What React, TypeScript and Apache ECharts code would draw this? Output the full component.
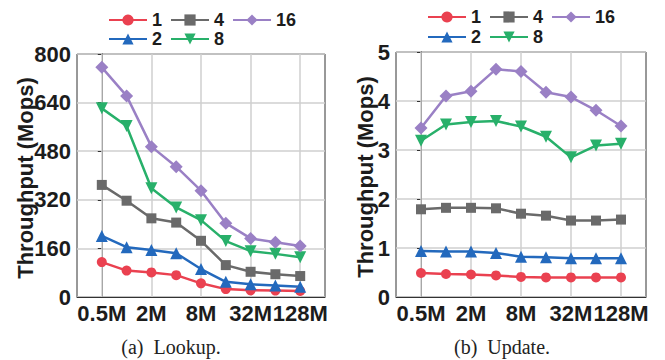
import React, { useEffect, useRef } from "react";
import * as echarts from "echarts";

const categories = ["0.5M", "1M", "2M", "4M", "8M", "16M", "32M", "64M", "128M"];
const threadNames = ["1", "2", "4", "8", "16"];

// Lookup throughput (Mops)
const lookup1 = [115, 87, 81, 72, 45, 26, 22, 21, 20];
const lookup2 = [201, 164, 155, 144, 92, 50, 42, 38, 34];
const lookup4 = [369, 317, 259, 245, 185, 105, 83, 75, 69];
const lookup8 = [621, 563, 358, 295, 253, 184, 151, 142, 131];
const lookup16 = [756, 662, 495, 429, 350, 243, 193, 180, 168];

// Update throughput (Mops)
const update1 = [0.49, 0.47, 0.46, 0.44, 0.41, 0.4, 0.4, 0.4, 0.4];
const update2 = [0.94, 0.93, 0.93, 0.9, 0.82, 0.81, 0.79, 0.79, 0.79];
const update4 = [1.79, 1.82, 1.82, 1.81, 1.7, 1.66, 1.56, 1.56, 1.58];
const update8 = [3.19, 3.52, 3.57, 3.59, 3.48, 3.27, 2.85, 3.09, 3.13];
const update16 = [3.45, 4.1, 4.2, 4.65, 4.6, 4.18, 4.08, 3.81, 3.49];

const lookupTicks = { max: 800, interval: 160 };
const updateTicks = { max: 5, interval: 1 };

const colors = ["#ea4150", "#2369bd", "#6a6a6a", "#28b06a", "#9a80c5"];
const symbols = ["circle", "triangle", "rect", "triangle", "diamond"];
const symbolRotates = [0, 0, 0, 180, 0];
const symbolSizes = [10, 12, 10, 12, 13];

const FONT = "'Liberation Sans', Arial, sans-serif";
const TXT = "#1c1c1c";

export default function App() {
  const ref = useRef<HTMLDivElement>(null);
  useEffect(() => {
    if (!ref.current) return;
    const chart = echarts.init(ref.current, null, { renderer: "svg" });
    const lookupData = [lookup1, lookup2, lookup4, lookup8, lookup16];
    const updateData = [update1, update2, update4, update8, update16];
    const gridLinePos = categories.map((_, i) => i).filter((i) => i % 2 === 0);

    const grids = [
      { left: 77, top: 54, width: 248, height: 243 },
      { left: 396, top: 52, width: 250, height: 245 },
    ];

    const xAxes = grids.map((_, gi) => ({
      type: "value" as const,
      gridIndex: gi,
      min: -1,
      max: categories.length,
      interval: 1,
      axisLine: { show: true, lineStyle: { color: "#333", width: 1 } },
      axisTick: { show: false },
      splitLine: { show: false },
      axisLabel: {
        margin: 5,
        fontFamily: FONT,
        fontWeight: "bold" as const,
        fontSize: 22,
        color: TXT,
        formatter: (v: number) =>
          Number.isInteger(v) && v >= 0 && v < categories.length && v % 2 === 0 ? categories[v] : "",
      },
    }));

    const yAxes = [lookupTicks, updateTicks].map((t, gi) => ({
      type: "value" as const,
      gridIndex: gi,
      min: 0,
      max: t.max,
      interval: t.interval,
      axisLine: { show: true, lineStyle: { color: "#333", width: 1 } },
      axisTick: { show: true, length: 4, lineStyle: { color: "#333" } },
      splitLine: { show: true, lineStyle: { color: "#cfcfcf", width: 1.5 } },
      axisLabel: {
        margin: 6,
        fontFamily: FONT,
        fontWeight: "bold" as const,
        fontSize: 22,
        color: TXT,
      },
    }));

    const series: any[] = [];
    [lookupData, updateData].forEach((dataSet, gi) => {
      dataSet.forEach((vals, si) => {
        const s: any = {
          type: "line",
          name: threadNames[si],
          xAxisIndex: gi,
          yAxisIndex: gi,
          data: vals.map((v, i) => [i, v]),
          symbol: symbols[si],
          symbolRotate: symbolRotates[si],
          symbolSize: symbolSizes[si],
          color: colors[si],
          lineStyle: { width: 2.5, color: colors[si] },
          itemStyle: { color: colors[si] },
          z: 3,
        };
        if (si === 0) {
          s.markLine = {
            silent: true,
            symbol: ["none", "none"],
            label: { show: false },
            z: 1,
            lineStyle: { color: "#cfcfcf", width: 1.5, type: "solid" },
            data: gridLinePos.map((p) => ({ xAxis: p })),
          };
        }
        series.push(s);
      });
    });

    const legendBase = {
      orient: "horizontal" as const,
      padding: 0,
      itemWidth: 38,
      itemHeight: 14,
      itemGap: 8,
      selectedMode: false,
      textStyle: {
        fontFamily: FONT,
        fontWeight: "bold" as const,
        fontSize: 18,
        lineHeight: 17,
        color: TXT,
      },
    };
    const row1 = [threadNames[0], threadNames[2], threadNames[4]];
    const row2 = [threadNames[1], threadNames[3]];

    const legends = [
      { ...legendBase, left: 108, top: 11, data: row1 },
      { ...legendBase, left: 108, top: 30, data: row2 },
      { ...legendBase, left: 427, top: 8, data: row1 },
      { ...legendBase, left: 427, top: 28, data: row2 },
    ];

    const titleStyle = {
      text: "Throughput (Mops)",
      fontFamily: FONT,
      fontWeight: "bold",
      fontSize: 22,
      fill: TXT,
      align: "center",
      verticalAlign: "middle",
    };
    const capStyle = {
      fontFamily: "'Liberation Serif', 'Times New Roman', serif",
      fontSize: 20,
      fill: "#222",
      align: "center",
      verticalAlign: "middle",
    };

    chart.setOption({
      animation: false,
      backgroundColor: "#ffffff",
      grid: grids.map((g) => ({ ...g, show: true, borderColor: "#333", borderWidth: 1 })),
      xAxis: xAxes,
      yAxis: yAxes,
      legend: legends,
      series,
      graphic: [
        { type: "text", x: 25, y: 178, rotation: Math.PI / 2, style: { ...titleStyle } },
        { type: "text", x: 365, y: 177, rotation: Math.PI / 2, style: { ...titleStyle } },
        { type: "text", x: 171, y: 347, style: { ...capStyle, text: "(a)  Lookup." } },
        { type: "text", x: 502, y: 347, style: { ...capStyle, text: "(b)  Update." } },
      ],
    });
    return () => chart.dispose();
  }, []);
  return (
    <div
      ref={ref}
      style={{ position: "fixed", left: 0, top: 0, width: 665, height: 360, background: "#fff" }}
    />
  );
}
